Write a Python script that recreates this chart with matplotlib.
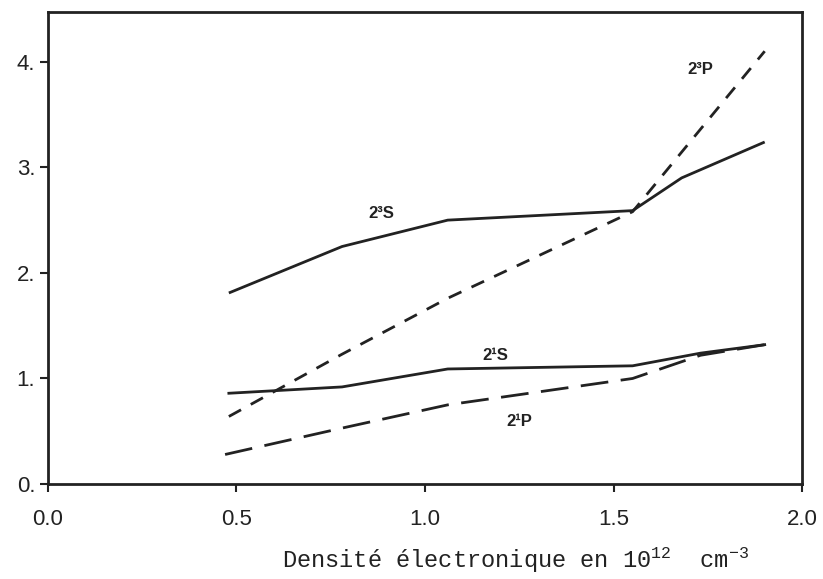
import matplotlib
matplotlib.use("Agg")
import matplotlib.pyplot as plt

plt.rcParams['mathtext.default'] = 'regular'

# Data (density in 10^12 cm^-3, arbitrary ordinate)
x_3S = [0.48, 0.78, 1.06, 1.55, 1.68, 1.90]
y_3S = [1.81, 2.25, 2.50, 2.59, 2.90, 3.24]

x_3P = [0.48, 0.78, 1.06, 1.55, 1.90]
y_3P = [0.64, 1.23, 1.76, 2.58, 4.10]

x_1S = [0.48, 0.78, 1.06, 1.55, 1.73, 1.90]
y_1S = [0.86, 0.92, 1.09, 1.12, 1.24, 1.32]

x_1P = [0.47, 0.78, 1.06, 1.55, 1.73, 1.90]
y_1P = [0.28, 0.53, 0.75, 1.00, 1.22, 1.32]

labels = ["2³S", "2³P", "2¹S", "2¹P"]
label_pos = [(0.885, 2.56), (1.73, 3.93), (1.185, 1.22), (1.25, 0.59)]

xticks = [0.0, 0.5, 1.0, 1.5, 2.0]
xticklabels = ["0.0", "0.5", "1.0", "1.5", "2.0"]
yticks = [0, 1, 2, 3, 4]
yticklabels = ["0.", "1.", "2.", "3.", "4."]

fig = plt.figure(figsize=(8.23, 5.79), dpi=100)
ax = fig.add_axes([0.058, 0.164, 0.917, 0.815])

ax.plot(x_3S, y_3S, color='#222222', lw=2.0, solid_capstyle='butt')
ax.plot(x_3P, y_3P, color='#222222', lw=2.0, dashes=(5, 4))
ax.plot(x_1S, y_1S, color='#222222', lw=2.0)
ax.plot(x_1P, y_1P, color='#222222', lw=2.0, dashes=(10, 4.5))

for t, (lx, ly) in zip(labels, label_pos):
    ax.text(lx, ly, t, ha='center', va='center', fontsize=12, fontweight='bold',
            family='Liberation Sans', color='#222222')

ax.set_xlim(0, 2.0)
ax.set_ylim(0, 4.47)
ax.set_xticks(xticks)
ax.set_xticklabels(xticklabels, family='Liberation Sans', fontsize=16)
ax.set_yticks(yticks)
ax.set_yticklabels(yticklabels, family='Liberation Sans', fontsize=16)
ax.tick_params(direction='out', length=6, width=1.5, color='#222222', labelcolor='#222222')
ax.tick_params(axis='x', pad=12)
ax.tick_params(axis='y', pad=3)
for s in ax.spines.values():
    s.set_linewidth(2.0)
    s.set_color('#222222')

ax.set_xlabel("Densité électronique en 10$^{12}$  cm$^{-3}$", family='Liberation Mono',
              fontsize=17, color='#222222')
ax.xaxis.set_label_coords(0.62, -0.13)

fig.savefig("out.png", dpi=100)
